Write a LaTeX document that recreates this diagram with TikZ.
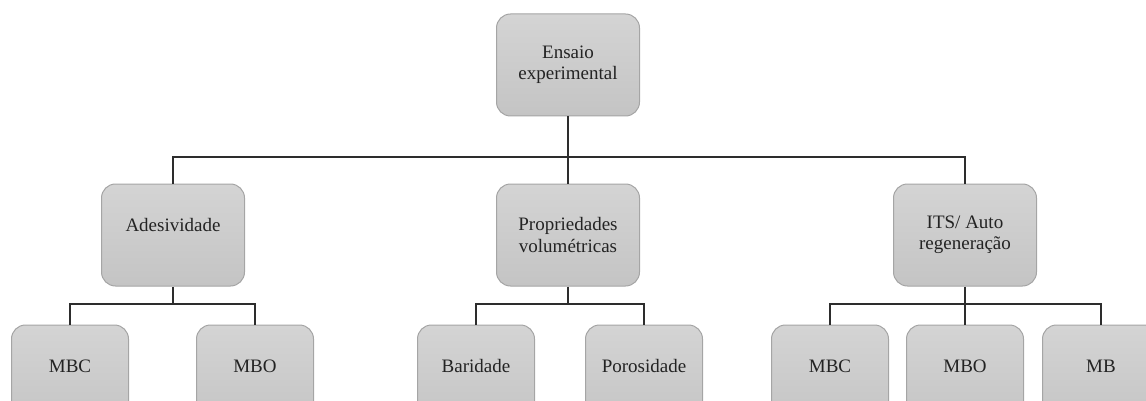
\documentclass[tikz,border=0pt]{standalone}
\usepackage{fontspec}
\setmainfont{Liberation Serif}
\begin{document}
\begin{tikzpicture}[x=1pt,y=-1pt,
  box/.style={draw={rgb,255:red,165;green,165;blue,165}, line width=1pt,
    rounded corners=14pt, top color={rgb,255:red,212;green,212;blue,212},
    bottom color={rgb,255:red,196;green,196;blue,196},
    minimum width=143pt, minimum height=102pt, inner sep=0pt,
    align=center, font=\fontsize{19}{21}\selectfont, text={rgb,255:red,35;green,35;blue,35}},
  single/.style={text height=14pt, text depth=22pt},
  leaf/.style={box, single, minimum width=117pt},
  conn/.style={draw={rgb,255:red,45;green,45;blue,45}, line width=1.6pt}]
\useasboundingbox (0,0) rectangle (1146,401);
\clip (0,0) rectangle (1146,401);
\coordinate (b1) at (0,157);
\coordinate (b2) at (0,304);
\node[box] (top) at (568,65) {Ensaio\\experimental};
\node[box, single] (ade) at (173,235) {Adesividade};
\node[box] (pro) at (568,235) {Propriedades\\volumétricas};
\node[box] (its) at (965,235) {ITS/ Auto\\regeneração};
\node[leaf] (m1) at (70,376) {MBC};
\node[leaf] (m2) at (255,376) {MBO};
\node[leaf] (m3) at (476,376) {Baridade};
\node[leaf] (m4) at (644,376) {Porosidade};
\node[leaf] (m5) at (830,376) {MBC};
\node[leaf] (m6) at (965,376) {MBO};
\node[leaf] (m7) at (1101,376) {MB};
\draw[conn] (top.south) -- (pro.north);
\draw[conn] (ade.north) |- (its.north |- b1) -- (its.north);
\draw[conn] (ade.south) -- (ade.south |- b2);
\draw[conn] (m1.north) |- (m2.north |- b2) -- (m2.north);
\draw[conn] (pro.south) -- (pro.south |- b2);
\draw[conn] (m3.north) |- (m4.north |- b2) -- (m4.north);
\draw[conn] (its.south) -- (m6.north);
\draw[conn] (m5.north) |- (m7.north |- b2) -- (m7.north);
\end{tikzpicture}
\end{document}
